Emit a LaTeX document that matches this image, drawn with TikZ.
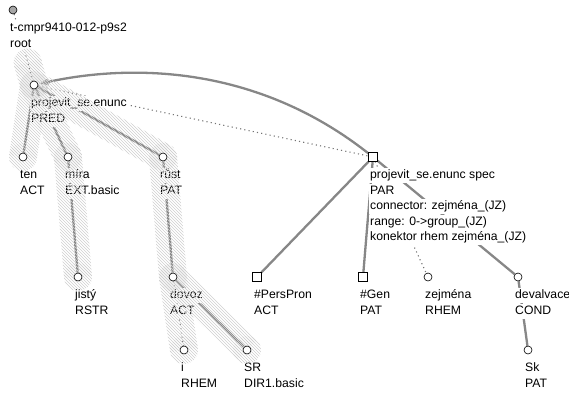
\documentclass[tikz,border=0pt]{standalone}
\usepackage{fontspec}
\setmainfont{Liberation Sans}
\usetikzlibrary{arrows.meta,patterns,calc}

\pgfdeclarelayer{edges}
\pgfdeclarelayer{band}
\pgfdeclarelayer{top}
\pgfsetlayers{edges,main,band,top}

\tikzset{
    tnode/.style={circle,draw=black,fill=white,line width=0.6pt,inner sep=0pt,minimum size=8pt},
    rnode/.style={tnode,fill=black!35},
    snode/.style={rectangle,draw=black,fill=white,line width=0.6pt,inner sep=0pt,minimum size=8.5pt},
    edge/.style={draw=black!47,line width=2.3pt},
    dotedge/.style={draw=black!55,line width=1.1pt,dash pattern=on 1.1pt off 3.2pt},
    lbl/.style={anchor=base west,fill=white,inner xsep=1.5pt,inner ysep=0.5pt,font=\fontsize{12.2}{14}\selectfont},
    band/.style={pattern=north west lines,pattern color=black!19},
}

\newcommand{\tlabel}[2]{%
    \foreach \t [count=\i] in {#2}
        \node[lbl] (#1-l\i) at ($(#1)+(-4.5,21.5)+(0,15.5*\i-15.5)$) {\strut\t};}

\newcommand{\bandseg}[2]{%
    \fill[band] ($(#1)!14pt!90:(#2)$) -- ($(#2)!14pt!-90:(#1)$)
        -- ($(#2)!14pt!90:(#1)$) -- ($(#1)!14pt!-90:(#2)$) -- cycle;
    \fill[band] (#1) circle (14pt) (#2) circle (14pt);}

\begin{document}
\begin{tikzpicture}[x=1pt,y=-1pt]
        \useasboundingbox (0,0) rectangle (569,394);

        \begin{pgfonlayer}{top}
        \node[rnode] (root) at (13,10) {};
        \node[tnode] (pred) at (34,85) {};
        \node[tnode] (ten) at (23,157) {};
        \node[tnode] (mira) at (68,157) {};
        \node[tnode] (rust) at (163,157) {};
        \node[tnode] (jisty) at (78,277) {};
        \node[tnode] (dovoz) at (173,277) {};
        \node[tnode] (i) at (184,350) {};
        \node[tnode] (sr) at (247,350) {};
        \node[snode] (spec) at (373,157) {};
        \node[snode] (perspron) at (257,277) {};
        \node[snode] (gen) at (363,277) {};
        \node[tnode] (zejmena) at (428,277) {};
        \node[tnode] (devalvace) at (518,277) {};
        \node[tnode] (sk) at (528,350) {};
        \end{pgfonlayer}

        \tlabel{root}{t-cmpr9410-012-p9s2,root}
        \tlabel{pred}{projevit\_se.enunc,PRED}
        \tlabel{ten}{ten,ACT}
        \tlabel{mira}{míra,EXT.basic}
        \tlabel{rust}{růst,PAT}
        \tlabel{jisty}{jistý,RSTR}
        \tlabel{dovoz}{dovoz,ACT}
        \tlabel{i}{i,RHEM}
        \tlabel{sr}{SR,DIR1.basic}
        \tlabel{spec}{projevit\_se.enunc spec,PAR,connector: zejména\_(JZ),range: 0->group\_(JZ),konektor rhem zejména\_(JZ)}
        \tlabel{perspron}{\#PersPron,ACT}
        \tlabel{gen}{\#Gen,PAT}
        \tlabel{zejmena}{zejména,RHEM}
        \tlabel{devalvace}{devalvace,COND}
        \tlabel{sk}{Sk,PAT}

        \begin{pgfonlayer}{band}
        \coordinate (cltop) at ($(root)!0.7!(pred)$);
        \bandseg{cltop}{pred}
        \bandseg{pred}{ten}
        \bandseg{pred}{mira}
        \bandseg{mira}{jisty}
        \bandseg{pred}{rust}
        \bandseg{rust}{dovoz}
        \bandseg{dovoz}{i}
        \bandseg{dovoz}{sr}
        \end{pgfonlayer}

        \begin{pgfonlayer}{edges}
        \draw[dotedge] (root) -- (pred);
        \draw[edge] (pred) -- (ten);
        \draw[edge] (pred) -- (mira);
        \draw[edge] (pred) -- (rust);
        \draw[edge] (mira) -- (jisty);
        \draw[edge] (rust) -- (dovoz);
        \draw[dotedge] (dovoz) -- (i);
        \draw[edge] (dovoz) -- (sr);
        \draw[dotedge] (pred) -- (spec);
        \draw[edge] (spec) -- (perspron);
        \draw[edge] (spec) -- (gen);
        \draw[dotedge] (spec) -- (zejmena);
        \draw[edge] (spec) -- (devalvace);
        \draw[edge] (devalvace) -- (sk);
        \draw[edge,-{Latex[length=10pt,width=7pt]}] (spec) .. controls (250,60) and (120,66) .. (pred);
        \end{pgfonlayer}
\end{tikzpicture}
\end{document}
